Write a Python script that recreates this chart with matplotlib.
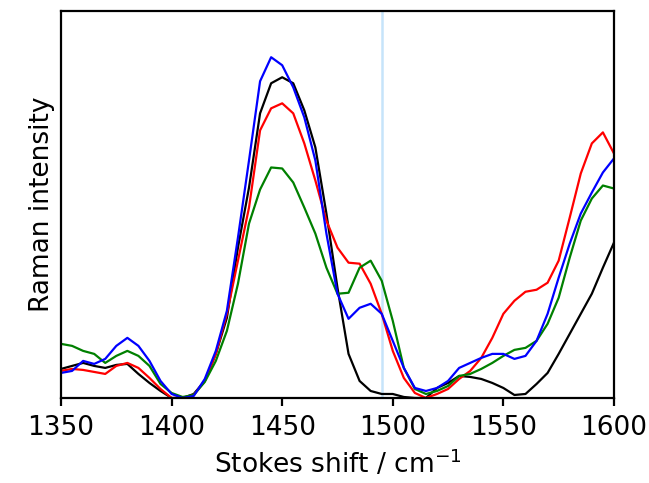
import matplotlib
matplotlib.use("Agg")
import matplotlib.pyplot as plt
import numpy as np

# Raman spectra on a 5 cm^-1 grid (arbitrary units)
shift = np.arange(1350, 1601, 5)

black = [29, 32, 35, 32, 30, 33, 34, 24, 15, 7, 0, 0, 4, 17, 44, 80, 150, 210,
         284, 314, 320, 314, 287, 250, 184, 110, 44, 17, 7, 4, 4, 1, 0, 0,
         10, 15, 22, 21, 19, 15, 10, 3, 4, 14, 25, 44, 64, 84, 104, 130, 155]
red = [27, 29, 28, 26, 24, 32, 35, 30, 20, 9, 0, 0, 3, 17, 44, 84, 137, 190,
       267, 289, 294, 284, 254, 217, 177, 150, 135, 134, 114, 84, 47, 20, 5, 0,
       4, 9, 19, 27, 40, 60, 84, 97, 106, 108, 115, 137, 180, 224, 254, 265, 244]
green = [54, 52, 47, 44, 35, 42, 47, 42, 32, 14, 5, 1, 3, 16, 37, 67, 114, 174,
         208, 230, 229, 215, 190, 164, 130, 104, 105, 130, 137, 117, 77, 30, 9, 4,
         7, 12, 22, 24, 29, 35, 42, 48, 50, 57, 74, 100, 140, 177, 199, 212, 209]
blue = [25, 27, 37, 34, 39, 52, 60, 52, 37, 17, 4, 0, 2, 19, 47, 87, 160, 237,
        316, 340, 332, 310, 280, 237, 164, 104, 79, 90, 94, 84, 57, 30, 10, 7,
        10, 17, 30, 35, 40, 44, 44, 39, 42, 57, 84, 120, 154, 184, 205, 225, 239]

marker_shift = 1495

fig = plt.figure(figsize=(6.49, 4.83), dpi=100)
ax = fig.add_axes([0.094, 0.176, 0.852, 0.801])

for series, color in [(black, "black"), (red, "red"), (green, "green"), (blue, "blue")]:
    ax.plot(shift, series, color=color, lw=1.6)

ax.axvline(marker_shift, color="#c6e4fa", lw=1.8, zorder=0)

ax.set_xlim(1350, 1600)
ax.set_ylim(0, 386)
ax.set_xticks([1350, 1400, 1450, 1500, 1550, 1600])
ax.set_yticks([])
ax.tick_params(axis="x", labelsize=19, length=6, width=1.6, pad=6)
for spine in ax.spines.values():
    spine.set_linewidth(1.6)
ax.set_xlabel("Stokes shift / cm$^{-1}$", fontsize=19, labelpad=6)
ax.set_ylabel("Raman intensity", fontsize=19)

fig.savefig("out.png", dpi=100)
